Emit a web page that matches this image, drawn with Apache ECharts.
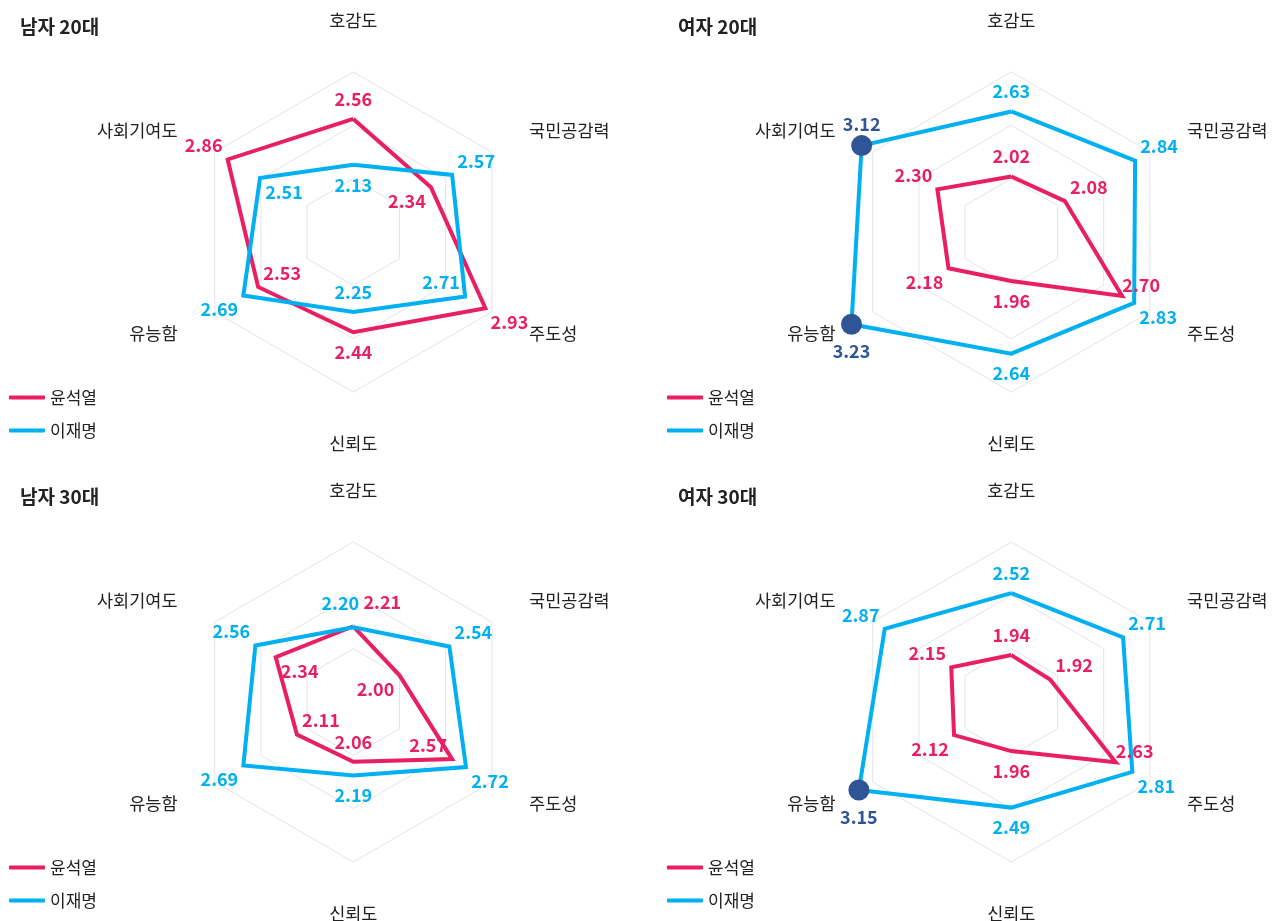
<!DOCTYPE html>
<html><head><meta charset="utf-8">
<script src="https://cdn.jsdelivr.net/npm/echarts@6/dist/echarts.min.js"></script>
<style>html,body{margin:0;padding:0;background:#fff}#c{width:1281px;height:921px}</style>
</head><body><div id="c"></div>
<script>
// ---- data ----
const indicators = ['호감도', '국민공감력', '주도성', '신뢰도', '유능함', '사회기여도'];
const seriesNames = ['윤석열', '이재명'];
const panelTitles = ['남자 20대', '여자 20대', '남자 30대', '여자 30대'];
const yoonM20 = [2.56, 2.34, 2.93, 2.44, 2.53, 2.86];
const leeM20  = [2.13, 2.57, 2.71, 2.25, 2.69, 2.51];
const yoonF20 = [2.02, 2.08, 2.70, 1.96, 2.18, 2.30];
const leeF20  = [2.63, 2.84, 2.83, 2.64, 3.23, 3.12];
const yoonM30 = [2.21, 2.00, 2.57, 2.06, 2.11, 2.34];
const leeM30  = [2.20, 2.54, 2.72, 2.19, 2.69, 2.56];
const yoonF30 = [1.94, 1.92, 2.63, 1.96, 2.12, 2.15];
const leeF30  = [2.52, 2.71, 2.81, 2.49, 3.15, 2.87];
const axisMin = 1.5, axisMax = 3.0, splitNumber = 3;

const panelData = [[yoonM20, leeM20], [yoonF20, leeF20], [yoonM30, leeM30], [yoonF30, leeF30]];

// ---- layout / style ----
const PINK = '#E91E63', BLUE = '#00B0F0', NAVY = '#2F5597';
const colors = [PINK, BLUE];
const FONT = "'Noto Sans CJK KR', 'Noto Sans', sans-serif";
const origins = [[0, 0], [658, 0], [0, 470], [658, 470]];
const CX = 353.3, CY = 232, R = 160;
// label placement codes per panel / series / indicator (o = outward, i = inward)
const placement = [
  [['o', 'i', 'o', 'o', 'i', 'o'], ['i', 'o', 'i', 'i', 'o', 'i']],
  [['o', 'o', 'ne', 'o', 'o', 'o'], ['o', 'o', 'o', 'o', 's', 'n']],
  [['pr', 'i', 'i', 'i', 'i', 'i'], ['pl', 'o', 'o', 'o', 'o', 'o']],
  [['o', 'o', 'ne', 'o', 'o', 'o'], ['o', 'o', 'o', 'o', 's', 'o']]
];
function labelOffset(code, k) {
  const th = (90 - 60 * k) * Math.PI / 180;
  const vx = Math.cos(th), vy = -Math.sin(th);
  const sx = Math.abs(vx) < 0.01 ? 0 : Math.sign(vx), sy = Math.sign(vy);
  if (code === 'o' || code === 'i') {
    const s = code === 'o' ? 1 : -1;
    return sx === 0 ? [0, s * sy * 20] : [s * sx * 24, s * sy * 14];
  }
  return { n: [0, -21], s: [0, 27], ne: [19, -11], pl: [-13, -24], pr: [29, -24] }[code];
}
// ECharts radar goes counter-clockwise; reorder so the picture runs clockwise
const order = [0, 5, 4, 3, 2, 1];

const option = {
  animation: false,
  backgroundColor: '#fff',
  title: [], legend: [], radar: [], polar: [], angleAxis: [], radiusAxis: [], series: []
};

origins.forEach(([ox, oy], i) => {
  const cx = ox + CX, cy = oy + CY;
  option.title.push({
    text: panelTitles[i], left: ox + 15, top: oy + 12,
    textStyle: { fontFamily: FONT, fontSize: 19, fontWeight: 'bold', color: '#222' }
  });
  option.legend.push({
    data: seriesNames, left: ox + 4, top: oy + 384, orient: 'vertical',
    icon: 'roundRect', itemWidth: 36, itemHeight: 4, itemGap: 16, selectedMode: false,
    textStyle: { fontFamily: FONT, fontSize: 17, color: '#222' }
  });
  option.radar.push({
    center: [cx, cy], radius: R, startAngle: 90, splitNumber: splitNumber, shape: 'polygon',
    indicator: order.map(k => ({ name: indicators[k], min: axisMin, max: axisMax })),
    nameGap: 43,
    axisName: { color: '#222', fontSize: 17.5, fontFamily: FONT },
    splitLine: { lineStyle: { color: '#e2e4ea', width: 1 } },
    splitArea: { show: false },
    axisLine: { show: false }, axisTick: { show: false }, axisLabel: { show: false }
  });
  option.polar.push({ center: [cx, cy], radius: R });
  option.angleAxis.push({ polarIndex: i, type: 'value', min: 0, max: 360, startAngle: 90, clockwise: true, show: false });
  option.radiusAxis.push({ polarIndex: i, type: 'value', min: axisMin, max: axisMax, show: false });

  option.series.push({
    type: 'radar', radarIndex: i, symbol: 'none', silent: true,
    data: panelData[i].map((vals, s) => ({
      name: seriesNames[s],
      value: order.map(k => vals[k]),
      lineStyle: { color: colors[s], width: 4, join: 'miter' },
      itemStyle: { color: colors[s] }
    }))
  });
  // markers for values above the axis maximum
  panelData[i].forEach((vals, s) => {
    const big = [];
    vals.forEach((v, k) => { if (v > axisMax) big.push([v, k * 60]); });
    if (big.length) option.series.push({
      type: 'scatter', name: 'mark' + i + s, coordinateSystem: 'polar', polarIndex: i,
      clip: false, silent: true, symbolSize: 21, itemStyle: { color: NAVY, opacity: 1 }, data: big, z: 3
    });
  });
  // value labels
  panelData[i].forEach((vals, s) => {
    option.series.push({
      type: 'scatter', name: 'lbl' + i + s, coordinateSystem: 'polar', polarIndex: i,
      clip: false, silent: true, symbolSize: 0, z: 4,
      itemStyle: { opacity: 1 },
      label: {
        show: true, position: 'inside', fontFamily: FONT, fontSize: 18, fontWeight: 'bold',
        opacity: 1,
        formatter: p => p.value[0].toFixed(2)
      },
      data: vals.map((v, k) => ({
        value: [v, k * 60],
        label: { offset: labelOffset(placement[i][s][k], k), color: v > axisMax ? NAVY : colors[s] }
      }))
    });
  });
});

const chart = echarts.init(document.getElementById('c'), null, { renderer: 'canvas' });
chart.setOption(option);
</script>
</body></html>
